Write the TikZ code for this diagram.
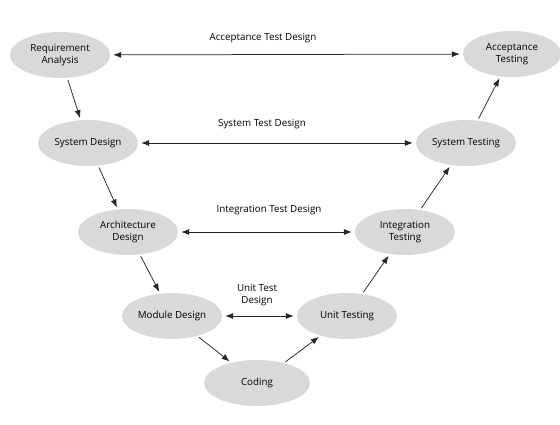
\documentclass[tikz,border=0pt]{standalone}
\usepackage{fontspec}
\setmainfont{Open Sans}
\usetikzlibrary{shapes.geometric,arrows.meta}

\tikzset{
  phase/.style={ellipse, fill=black!15, minimum width=100pt, minimum height=46pt,
                inner sep=0pt, align=center, font=\fontsize{9.8}{12}\selectfont},
  flow/.style={-{Latex[length=8pt,width=6pt]}, line width=0.75pt, black!85,
               shorten <=2pt, shorten >=2pt},
  link/.style={{Latex[length=8pt,width=6pt]}-{Latex[length=8pt,width=6pt]},
               line width=0.75pt, black!85, shorten <=3pt, shorten >=3pt},
  lbl/.style={align=center, font=\fontsize{9.8}{12}\selectfont}
}

\begin{document}
\begin{tikzpicture}[x=1pt,y=-1pt]
  \useasboundingbox (0,0) rectangle (560,424);
  % left leg
  \node[phase] (req) at (60,55) {Requirement\\Analysis};
  \node[phase] (sysd) at (88,143) {System Design};
  \node[phase] (arch) at (128,232) {Architecture\\Design};
  \node[phase] (mod) at (172,316) {Module Design};
  % bottom
  \node[phase, minimum width=106pt] (code) at (257,383) {Coding};
  % right leg
  \node[phase] (unit) at (347,316) {Unit Testing};
  \node[phase] (integ) at (405,232) {Integration\\Testing};
  \node[phase] (syst) at (466,143) {System Testing};
  \node[phase, minimum width=98pt] (acc) at (512,54) {Acceptance\\Testing};

  \draw[flow] (req) -- (sysd);
  \draw[flow] (sysd) -- (arch);
  \draw[flow] (arch) -- (mod);
  \draw[flow] (mod) -- (code);
  \draw[flow] (code) -- (unit);
  \draw[flow] (unit) -- (integ);
  \draw[flow] (integ) -- (syst);
  \draw[flow] (syst) -- (acc);

  \draw[link] (req) -- (acc);
  \draw[link] (sysd) -- (syst);
  \draw[link] (arch) -- (integ);
  \draw[link] (mod) -- (unit);

  \node[lbl] (accl) at (263,38) {Acceptance Test Design};
  \node[lbl] (sysl) at (262,124) {System Test Design};
  \node[lbl] (intl) at (269,210) {Integration Test Design};
  \node[lbl] (unitl) at (257,295) {Unit Test\\Design};
\end{tikzpicture}
\end{document}
